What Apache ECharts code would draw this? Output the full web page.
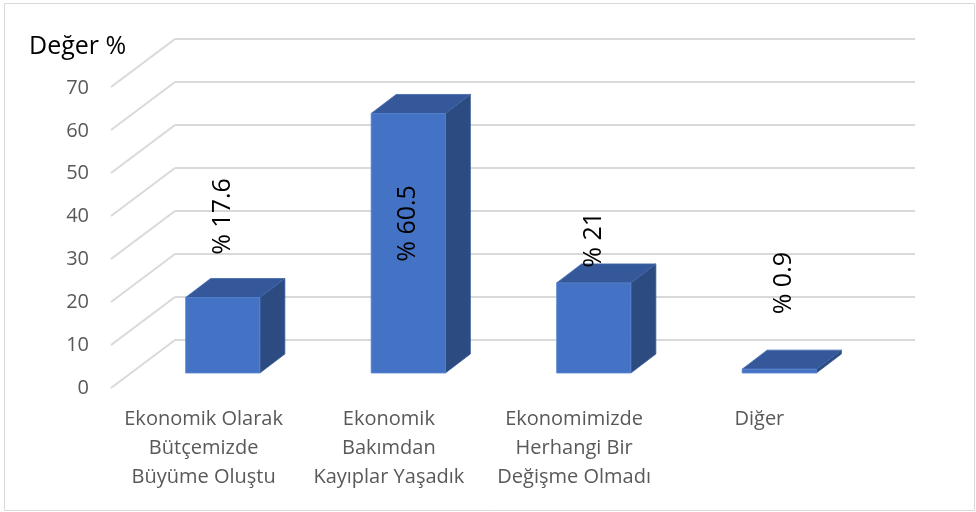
<!DOCTYPE html>
<html>
<head>
<meta charset="utf-8">
<title>Değer %</title>
<script src="https://cdn.jsdelivr.net/npm/echarts@6/dist/echarts.min.js"></script>
<style>
	html, body { margin: 0; padding: 0; background: #fff; }
	#main { width: 976px; height: 512px; }
</style>
</head>
<body>
<div id="main"></div>
<script>
var categories = [ 'Ekonomik Olarak\nBütçemizde\nBüyüme Oluştu', 'Ekonomik\nBakımdan\nKayıplar Yaşadık',
		'Ekonomimizde\nHerhangi Bir\nDeğişme Olmadı', 'Diğer' ];
var values = [ 17.6, 60.5, 21, 0.9 ];
var yTicks = [ 0, 10, 20, 30, 40, 50, 60, 70 ];

var font = '"Open Sans", "Noto Sans", sans-serif';
var myChart = echarts.init(document.getElementById('main'));

// 3D bar depth and side wall offsets (px)
var depthX = 25, depthY = -19;
var wallX = -64, wallY = 48;
// manual label shifts, like in the original chart
var labelShift = [ -81, 110, -43, -86 ];

var option = {
	animation : false,
	textStyle : { fontFamily : font },
	title : {
		text : 'Değer %',
		left : 29,
		top : 34,
		padding : 0,
		textStyle : { fontSize : 25, fontWeight : 'normal', color : '#000', fontFamily : font }
	},
	graphic : [ {
		type : 'rect',
		shape : { x : 4.5, y : 3.5, width : 970, height : 507 },
		style : { fill : 'none', stroke : '#d9d9d9', lineWidth : 1 },
		silent : true
	} ],
	grid : [
		// back wall
		{ left : 175, right : 61, top : 39, bottom : 172 },
		// front of the floor: y labels + categories
		{ left : 111, right : 124, top : 88, bottom : 124 },
		// bars
		{ left : 130, right : 104, top : 72.7, bottom : 139 } ],
	xAxis : [ {
		gridIndex : 0, type : 'value', min : 0, max : 1, show : false
	}, {
		gridIndex : 1,
		type : 'category',
		data : categories,
		axisLine : { show : false },
		axisTick : { show : false },
		axisLabel : {
			interval : 0, fontSize : 20, lineHeight : 29, color : '#595959', margin : 17, fontFamily : font
		}
	}, {
		gridIndex : 2, type : 'category', data : categories, show : false
	} ],
	yAxis : [ {
		gridIndex : 0, type : 'value', min : 0, max : 70, interval : 10,
		axisLine : { show : false }, axisTick : { show : false }, axisLabel : { show : false },
		splitLine : { lineStyle : { color : '#d9d9d9', width : 2 } }
	}, {
		gridIndex : 1, type : 'value', min : 0, max : 70, interval : 10,
		axisLine : { show : false }, axisTick : { show : false }, splitLine : { show : false },
		axisLabel : { fontSize : 20, color : '#595959', margin : 22, fontFamily : font }
	}, {
		gridIndex : 2, type : 'value', min : 0, max : 70, show : false
	} ],
	series : [ {
		// diagonal lines on the side wall
		type : 'custom',
		xAxisIndex : 0,
		yAxisIndex : 0,
		silent : true,
		data : yTicks.map(function(v) { return [ 0, v ]; }),
		renderItem : function(params, api) {
			var p = api.coord([ 0, api.value(1) ]);
			return {
				type : 'line',
				shape : { x1 : p[0], y1 : p[1], x2 : p[0] + wallX, y2 : p[1] + wallY },
				style : { stroke : '#d9d9d9', lineWidth : 2 }
			};
		}
	}, {
		type : 'custom',
		xAxisIndex : 2,
		yAxisIndex : 2,
		z : 5,
		data : values.map(function(v, i) { return [ i, v ]; }),
		renderItem : function(params, api) {
			var i = api.value(0);
			var top = api.coord([ i, api.value(1) ]);
			var base = api.coord([ i, 0 ]);
			var w = api.size([ 1, 0 ])[0] * 0.4;
			var x0 = top[0] - w / 2, x1 = top[0] + w / 2;
			var y0 = top[1], y1 = base[1];
			return {
				type : 'group',
				children : [ {
					type : 'polygon',
					shape : { points : [ [ x1, y0 ], [ x1 + depthX, y0 + depthY ], [ x1 + depthX, y1 + depthY ], [ x1, y1 ] ] },
					style : { fill : '#2c4b80', stroke : '#3a5c96', lineWidth : 0.8 }
				}, {
					type : 'polygon',
					shape : { points : [ [ x0, y0 ], [ x0 + depthX, y0 + depthY ], [ x1 + depthX, y0 + depthY ], [ x1, y0 ] ] },
					style : { fill : '#34589a', stroke : '#4067ab', lineWidth : 0.8 }
				}, {
					type : 'rect',
					shape : { x : x0, y : y0, width : w, height : y1 - y0 },
					style : { fill : '#4472c4', stroke : '#5b84cf', lineWidth : 0.8 }
				}, {
					type : 'text',
					x : top[0] + (i === 3 ? 5 : 0),
					y : y0 + labelShift[i],
					rotation : Math.PI / 2,
					style : {
						text : '% ' + api.value(1),
						fontSize : 25,
						fontFamily : font,
						fill : '#000',
						align : 'center',
						verticalAlign : 'middle'
					}
				} ]
			};
		}
	} ]
};

myChart.setOption(option);
</script>
</body>
</html>
